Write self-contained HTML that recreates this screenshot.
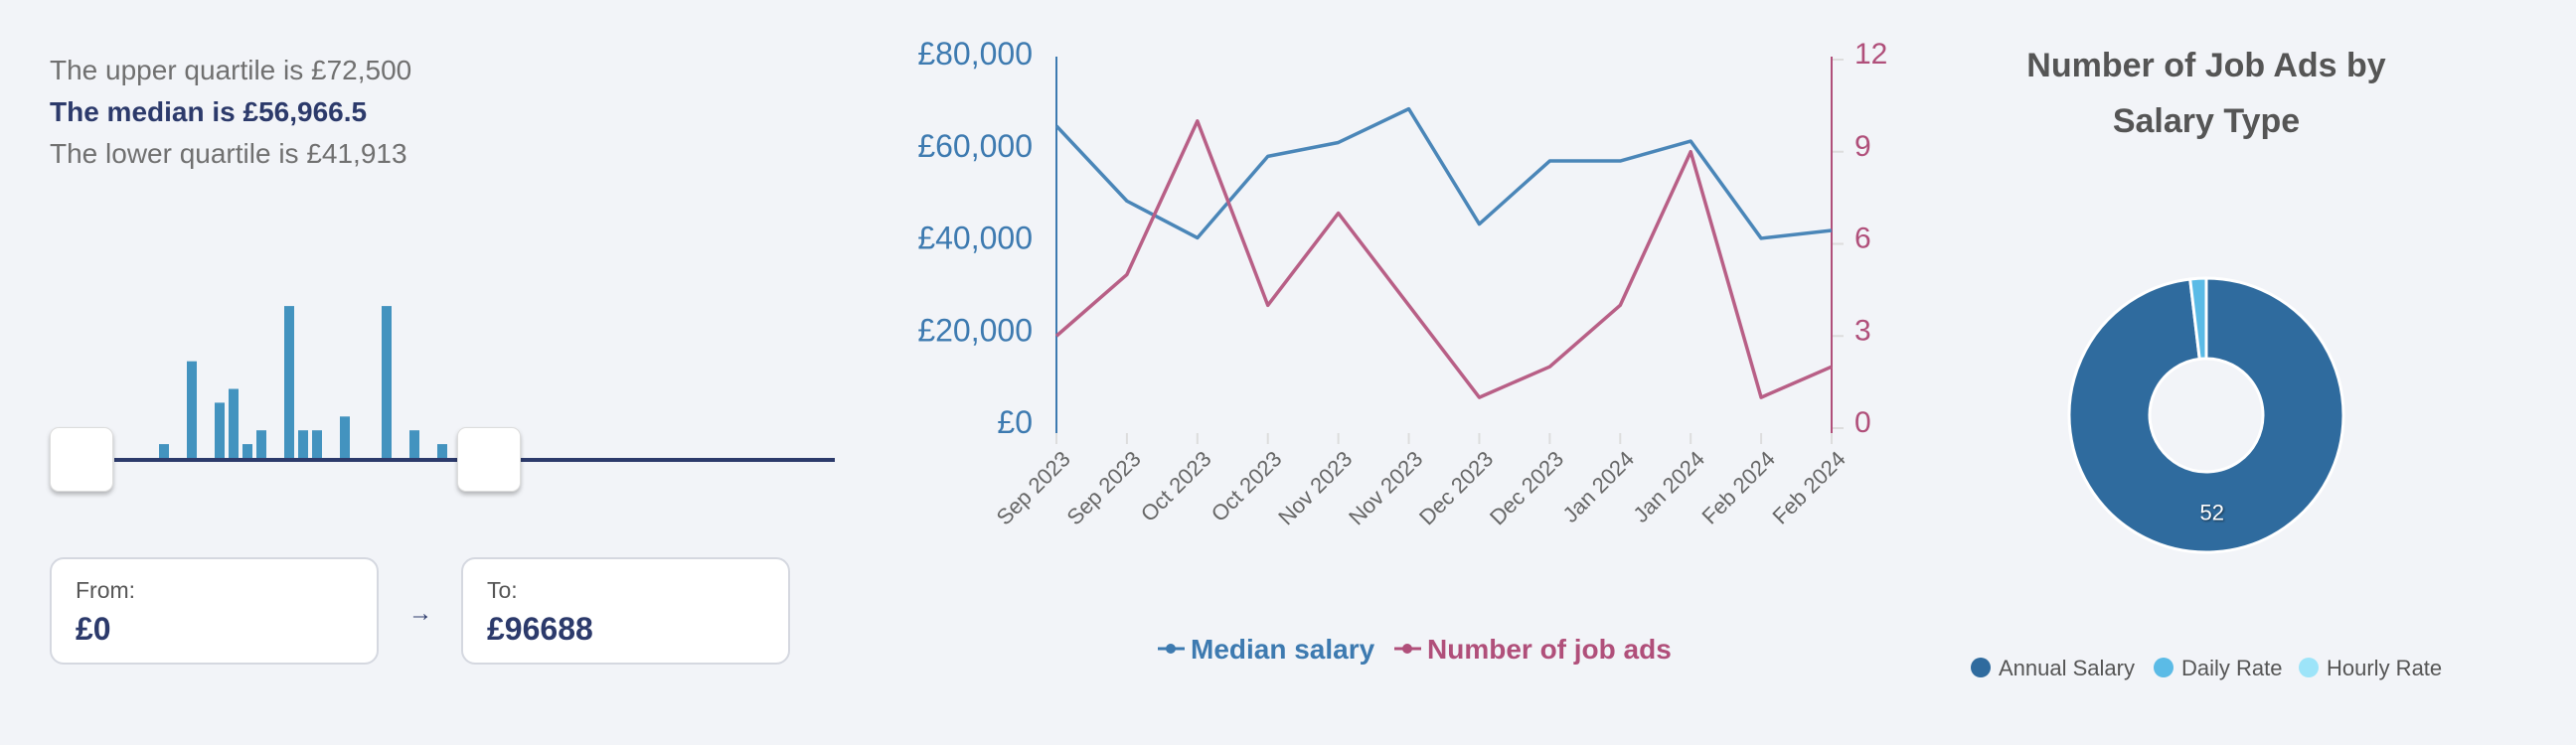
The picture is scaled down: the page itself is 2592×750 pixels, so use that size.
<!DOCTYPE html>
<html><head><meta charset="utf-8">
<style>
html,body{margin:0;padding:0;width:2592px;height:750px;background:#f2f4f8;overflow:hidden;font-family:"Liberation Sans",sans-serif;}
.abs{position:absolute;}
.q{position:absolute;left:50px;font-size:28px;color:#707070;white-space:nowrap;}
.box{position:absolute;top:561px;height:108px;width:331px;background:#fff;border:2px solid #d5d8e0;border-radius:14px;box-sizing:border-box;}
.box .l{position:absolute;left:24px;top:18px;font-size:23px;color:#555;}
.box .v{position:absolute;left:24px;top:52px;font-size:32px;font-weight:bold;color:#2c3a6b;}
.handle{position:absolute;top:430px;width:64px;height:65px;background:#fff;border:1px solid #ddd;border-radius:9px;box-shadow:0 3px 4px rgba(0,0,0,.25);box-sizing:border-box;}
</style></head><body>
<div class="q" style="top:55px">The upper quartile is £72,500</div>
<div class="q" style="top:97px;color:#2c3a6b;font-weight:bold">The median is £56,966.5</div>
<div class="q" style="top:139px">The lower quartile is £41,913</div>

<svg class="abs" style="left:0;top:0" width="870" height="520" id="hist">
<line x1="115" y1="463" x2="840" y2="463" stroke="#2c3a6b" stroke-width="4"/>
</svg>
<div class="handle" style="left:50px"></div>
<div class="handle" style="left:460px"></div>

<div class="box" style="left:50px"><div class="l">From:</div><div class="v">£0</div></div>
<div class="abs" style="left:411px;top:604px;font-size:24px;color:#2c3a6b">→</div>
<div class="box" style="left:464px"><div class="l">To:</div><div class="v">£96688</div></div>

<svg class="abs" style="left:0;top:0" width="2592" height="750" id="line"></svg>

<div class="abs" style="left:1960px;top:38px;width:520px;text-align:center;font-size:34px;font-weight:bold;color:#555;line-height:56px">Number of Job Ads by<br>Salary Type</div>
<svg class="abs" style="left:0;top:0" width="2592" height="750" id="donut"></svg>

<script>
const histBins=[0,2,4,5,6,7,9,10,11,13,16,18,20];
const histCounts=[1,7,4,5,1,2,11,2,2,3,11,2,1];

const months=["Sep 2023","Sep 2023","Oct 2023","Oct 2023","Nov 2023","Nov 2023","Dec 2023","Dec 2023","Jan 2024","Jan 2024","Feb 2024","Feb 2024"];
const medianSalary=[65600,49300,41300,59000,62000,69300,44300,58000,58000,62300,41200,42900];
const jobAds=[3,5,10,4,7,4,1,2,4,9,1,2];
const leftTicks=[0,20000,40000,60000,80000];
const leftTickLabels=["£0","£20,000","£40,000","£60,000","£80,000"];
const rightTicks=[0,3,6,9,12];

const donutLabels=["Annual Salary","Daily Rate","Hourly Rate"];
const donutValues=[52,1,0];
const donutColors=["#2f6b9e","#5bbbe6","#9de4f9"];

const NS="http://www.w3.org/2000/svg";
function mk(p,t,a){const e=document.createElementNS(NS,t);for(const k in a)e.setAttribute(k,a[k]);p.appendChild(e);return e;}

const hs=document.getElementById('hist');
const hx=i=>160+i*14, hy=c=>c*13.9;
histBins.forEach((b,i)=>{
  const r=mk(hs,'rect',{x:hx(b),y:461-hy(histCounts[i]),width:10,height:hy(histCounts[i]),fill:'#4393bf'});
  
  
});

const ls=document.getElementById('line');
const X0=1063,X1=1843,Y0=431,YT=60;
const xs=i=>X0+i*(X1-X0)/(months.length-1);
const yl=v=>Y0-(v/80000)*(Y0-YT);
const yr=v=>Y0-(v/12)*(Y0-YT);
months.forEach((m,i)=>{
  mk(ls,'line',{x1:xs(i),y1:436,x2:xs(i),y2:447,stroke:'#ddd','stroke-width':2});
  const t=mk(ls,'text',{x:xs(i)+4,y:452,'font-size':22,fill:'#666','text-anchor':'end',transform:`rotate(-45 ${xs(i)+4} 452)`,'dominant-baseline':'hanging'});
  t.textContent=m;
  
  
});
leftTicks.forEach((v,i)=>{
  const t=mk(ls,'text',{x:1039,y:yl(v)+5,'font-size':32,fill:'#3d7ab0','text-anchor':'end'});
  t.textContent=leftTickLabels[i];
  
  
});
rightTicks.forEach(v=>{
  mk(ls,'line',{x1:X1,y1:yr(v),x2:X1+12,y2:yr(v),stroke:'#ddd','stroke-width':2});
  const t=mk(ls,'text',{x:1866,y:yr(v)+4,'font-size':30,fill:'#b04f7a'});
  t.textContent=v;
  
  
});
const la=mk(ls,'line',{x1:X0,y1:57,x2:X0,y2:436,stroke:'#3d7ab0','stroke-width':2});


const ra=mk(ls,'line',{x1:X1,y1:57,x2:X1,y2:436,stroke:'#b04f7a','stroke-width':2});


const p1=mk(ls,'polyline',{points:medianSalary.map((v,i)=>xs(i)+','+yl(v)).join(' '),fill:'none',stroke:'#4a86b8','stroke-width':3.5,'stroke-linejoin':'round'});


const p2=mk(ls,'polyline',{points:jobAds.map((v,i)=>xs(i)+','+yr(v)).join(' '),fill:'none',stroke:'#b85f86','stroke-width':3.5,'stroke-linejoin':'round'});


const lg1=mk(ls,'g',{});


mk(lg1,'line',{x1:1165,y1:653,x2:1192,y2:653,stroke:'#3d7ab0','stroke-width':3});
mk(lg1,'circle',{cx:1178,cy:653,r:5,fill:'#3d7ab0'});
const t1=mk(lg1,'text',{x:1198,y:663,'font-size':28,'font-weight':'bold',fill:'#3d7ab0'});t1.textContent='Median salary';
const lg2=mk(ls,'g',{});


mk(lg2,'line',{x1:1403,y1:653,x2:1430,y2:653,stroke:'#b04f7a','stroke-width':3});
mk(lg2,'circle',{cx:1416,cy:653,r:5,fill:'#b04f7a'});
const t2=mk(lg2,'text',{x:1436,y:663,'font-size':28,'font-weight':'bold',fill:'#b04f7a'});t2.textContent='Number of job ads';

const ds=document.getElementById('donut');
const CX=2220,CY=418,RO=138,RI=57;
const tot=donutValues.reduce((a,b)=>a+b,0);
let a0=0;
donutValues.forEach((v,i)=>{
  if(!v)return;
  const a1=a0+v/tot*2*Math.PI;
  const pt=(r,a)=>[CX+r*Math.sin(a),CY-r*Math.cos(a)];
  const [x1,y1]=pt(RO,a0),[x2,y2]=pt(RO,a1),[x3,y3]=pt(RI,a1),[x4,y4]=pt(RI,a0);
  const lf=(a1-a0)>Math.PI?1:0;
  const p=mk(ds,'path',{d:`M${x1},${y1}A${RO},${RO} 0 ${lf} 1 ${x2},${y2}L${x3},${y3}A${RI},${RI} 0 ${lf} 0 ${x4},${y4}Z`,fill:donutColors[i],stroke:'#fff','stroke-width':3});
  
  
  if(v/tot>0.2){
    const mid=(a0+a1)/2,lr=(RO+RI)/2;
    const [lx,ly]=pt(lr,mid);
    const t=mk(ds,'text',{x:lx,y:ly+8,'font-size':22,fill:'#fff','text-anchor':'middle',style:'text-shadow:1px 1px 2px rgba(0,0,0,.6)'});
    t.textContent=v;
    
    
  }
  a0=a1;
});
const legX=[1993,2177,2323];
donutLabels.forEach((l,i)=>{
  const g=mk(ds,'g',{});
  
  
  mk(g,'circle',{cx:legX[i],cy:672,r:10,fill:donutColors[i]});
  const t=mk(g,'text',{x:legX[i]+18,y:680,'font-size':22,fill:'#555'});t.textContent=l;
});
</script>
</body></html>
